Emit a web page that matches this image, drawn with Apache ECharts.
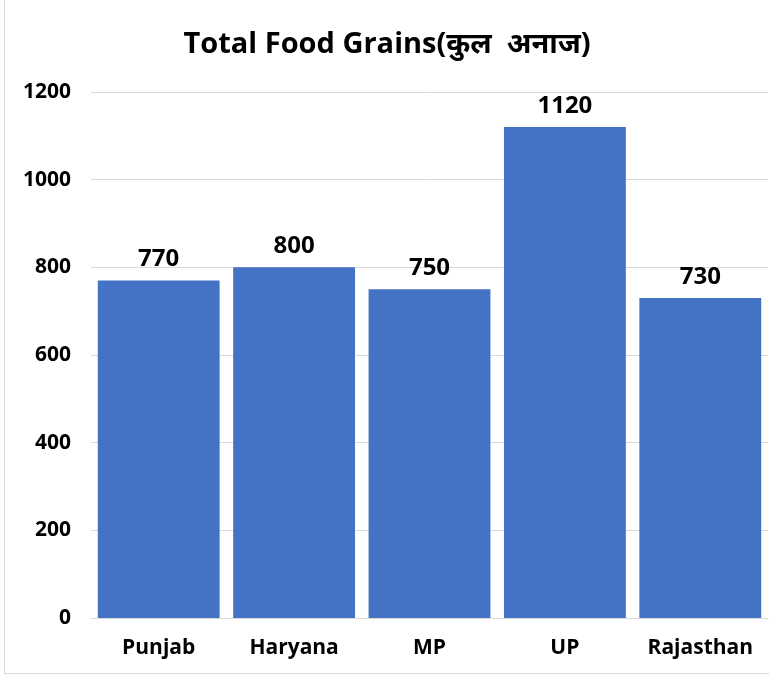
<!DOCTYPE html>
<html>
<head>
<meta charset="utf-8">
<script src="https://cdn.jsdelivr.net/npm/echarts@6/dist/echarts.min.js"></script>
<style>
  html, body { margin: 0; padding: 0; background: #fff; }
  #chart { position: absolute; left: 4px; top: 0; width: 765px; height: 674px; border: 1px solid #d9d9d9; border-top: none; border-right: none; box-sizing: border-box; }
</style>
</head>
<body>
<div id="chart"></div>
<script>
const states = ['Punjab', 'Haryana', 'MP', 'UP', 'Rajasthan'];
const grains = [770, 800, 750, 1120, 730];
const yTicks = [0, 200, 400, 600, 800, 1000, 1200];

const font = '"Open Sans", "Noto Sans", sans-serif';

const chart = echarts.init(document.getElementById('chart'));
chart.setOption({
  animation: false,
  title: {
    text: 'Total Food Grains(कुल  अनाज)',
    left: 'center',
    top: 25,
    textStyle: { fontFamily: font, fontSize: 29, fontWeight: 'bold', color: '#000' }
  },
  grid: { left: 86, right: 1, top: 92, bottom: 55 },
  xAxis: {
    type: 'category',
    data: states,
    axisLine: { show: true, lineStyle: { color: '#d9d9d9' } },
    axisTick: { show: false },
    axisLabel: {
      interval: 0, hideOverlap: false,
      fontFamily: font, fontSize: 21, fontWeight: 'bold', color: '#000', margin: 20
    }
  },
  yAxis: {
    type: 'value',
    min: yTicks[0],
    max: yTicks[yTicks.length - 1],
    interval: 200,
    axisLine: { show: false },
    axisTick: { show: false },
    splitLine: { lineStyle: { color: '#d9d9d9', width: 1 } },
    axisLabel: {
      fontFamily: font, fontSize: 21, fontWeight: 'bold', color: '#000', margin: 20,
      formatter: (v) => String(v)
    }
  },
  series: [{
    type: 'bar',
    data: grains,
    barCategoryGap: '10%',
    itemStyle: { color: '#4472C4' },
    label: {
      show: true,
      position: 'top',
      distance: 9,
      fontFamily: font,
      fontSize: 24,
      fontWeight: 'bold',
      color: '#000'
    }
  }]
});
</script>
</body>
</html>
